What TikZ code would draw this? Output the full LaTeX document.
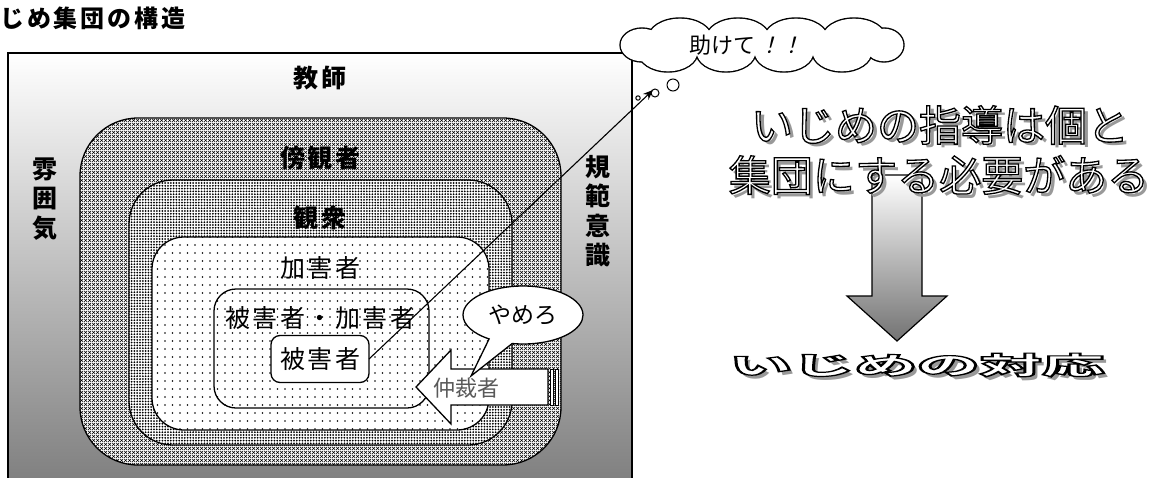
\documentclass[tikz,border=0pt]{standalone}
\usepackage{fontspec}
\usepackage{graphicx}
\usetikzlibrary{patterns,shapes.callouts,arrows.meta}
\newfontfamily\jp{Noto Sans CJK JP}
\newfontfamily\jpw[LetterSpace=10]{Noto Sans CJK JP}
\newfontfamily\jpt[LetterSpace=12]{Noto Sans CJK JP}
\newfontfamily\jpsl[FakeSlant=0.25]{Noto Sans CJK JP}
\newcommand{\outl}[2]{\special{pdf:code q}\textcolor{white}{\special{pdf:code 0 G 2 Tr #1 w}#2}\special{pdf:code 0 Tr Q}}
\pgfdeclarepatternformonly{sparsedots}{\pgfqpoint{-1pt}{-1pt}}{\pgfqpoint{1pt}{1pt}}{\pgfqpoint{7.5pt}{8pt}}{\pgfpathcircle{\pgfpointorigin}{0.8pt}\pgfusepath{fill}}
\pgfdeclarepatternformonly{densedots}{\pgfqpoint{-1pt}{-1pt}}{\pgfqpoint{1.2pt}{1.2pt}}{\pgfqpoint{2.8pt}{2.8pt}}{\pgfpathcircle{\pgfpointorigin}{1pt}\pgfusepath{fill}}
\pgfdeclarepatternformonly{xhatch}{\pgfqpoint{0pt}{0pt}}{\pgfqpoint{4pt}{4pt}}{\pgfqpoint{4pt}{4pt}}{\pgfsetlinewidth{0.8pt}\pgfpathmoveto{\pgfqpoint{0pt}{0pt}}\pgfpathlineto{\pgfqpoint{4pt}{4pt}}\pgfpathmoveto{\pgfqpoint{0pt}{4pt}}\pgfpathlineto{\pgfqpoint{4pt}{0pt}}\pgfusepath{stroke}}
\tikzset{
  lab/.style={font=\jpw\fontsize{25}{25}\selectfont, inner sep=0},
  blab/.style={font=\jpw\bfseries\fontsize{25}{25}\selectfont, inner sep=0},
  vlab/.style={font=\jp\bfseries\fontsize{25}{29.5}\selectfont, align=center, inner sep=0},
  ring/.style={draw, line width=1.3pt, rounded corners=#1, inner sep=0, outer sep=0, fill=white},
  bigtxt/.style={font=\jp\fontsize{42}{42}\selectfont, inner sep=0},
  shadowtxt/.style={text=black!40},
}
\begin{document}
\begin{tikzpicture}[x=1pt,y=-1pt]
\useasboundingbox (0,0) rectangle (1169,477);
% title
\node[anchor=west, inner sep=0, font=\jpt\bfseries\fontsize{24}{24}\selectfont] (title) at (0,18) {じめ集団の構造};
% outer frame with gradient
\shade[top color=white, bottom color=black!50] (8,53) rectangle (632,482);
\node[draw, line width=1.3pt, minimum width=624pt, minimum height=429pt, inner sep=0] (frame) at (320,267.5) {};
\node[blab] (teacher) at (320,78) {教師};
\node[vlab] (atmos) at (45,199) {雰\\囲\\気};
\node[vlab] (norm) at (598,211) {規\\範\\意\\識};
% nested groups
\node[ring=58pt, minimum width=481pt, minimum height=347pt, postaction={pattern=xhatch}] (byst) at (320.5,291.5) {};
\node[ring=44pt, minimum width=383pt, minimum height=265pt, postaction={pattern=densedots}] (aud) at (320.5,312.5) {};
\node[ring=32pt, minimum width=337pt, minimum height=193pt, postaction={pattern=sparsedots}] (agg) at (320.5,333.5) {};
\node[draw, line width=1.3pt, rounded corners=22pt, inner sep=0, minimum width=215pt, minimum height=119pt] (both) at (321.5,348.5) {};
\node[ring=9pt, minimum width=98pt, minimum height=47pt] (vict) at (320,359) {};
\node[blab] (lbyst) at (320,158) {傍観者};
\node[blab] (laud) at (320,218) {観衆};
\node[lab] (lagg) at (320,268) {加害者};
\node[lab] (lboth) at (320,318) {被害者・加害者};
\node[lab] (lvict) at (320,359) {被害者};
% mediator arrow
\filldraw[fill=white, line width=1.3pt, line join=miter] (416,387) -- (451,350) -- (451,369) -- (548,369) -- (548,405) -- (451,405) -- (451,424) -- cycle;
\filldraw[fill=white, line width=1pt] (550.5,369) rectangle (553,405);
\filldraw[fill=white, line width=1pt] (555.5,369) rectangle (558,405);
% speech bubble
\node[ellipse callout, draw, fill=white, line width=1.3pt, minimum width=120pt, minimum height=58pt, callout absolute pointer={(471,376)}, callout pointer arc=24, font=\jp\fontsize{23}{23}\selectfont] (stop) at (523,315) {やめろ};
\node[font=\jp\fontsize{22}{22}\selectfont, text=black!65, inner sep=0] (med) at (466,388) {仲裁者};
% cry for help
\coordinate (tip) at (653,90);
\draw[line width=1.1pt, -{Stealth[length=10pt,width=8pt]}] (vict.east) -- (tip);
\def\puffs{642/45/22/17,884/45/20/17,680/38/32/20,738/38/32/20,796/38/32/20,854/38/32/20,668/52/30/20,726/52/30/20,784/52/30/20,842/52/30/20}
\foreach \px/\py/\rx/\ry in \puffs \fill[black] (\px,\py) ellipse ({\rx+0.7} and {\ry+0.7});
\foreach \px/\py/\rx/\ry in \puffs \fill[white] (\px,\py) ellipse ({\rx-0.7} and {\ry-0.7});
\fill[white] (642,38) rectangle (882,52);
\node[inner sep=0] (help) at (746,45) {\jp\fontsize{22}{22}\selectfont 助けて\hspace{3pt}{\jpsl ！！}};
\draw[line width=1pt, fill=white] (638,98) circle (2.2);
\draw[line width=1pt] (655,93) circle (4);
\draw[line width=1pt, fill=white] (673,85) circle (6);
% down arrow
\shade[top color=white, bottom color=black!55, draw=black, line width=1.2pt, line join=miter] (872,175) -- (922,175) -- (922,296) -- (947,296) -- (897,341) -- (847,296) -- (872,296) -- cycle;
% big slogan
\node[bigtxt, shadowtxt] (s1s) at (944,129) {いじめの指導は個と};
\node[bigtxt] (s1) at (940,125) {\outl{1.3}{いじめの指導は個と}};
\node[bigtxt, shadowtxt] (s2s) at (943,179) {集団にする必要がある};
\node[bigtxt] (s2) at (939,175) {\outl{1.3}{集団にする必要がある}};
% bottom title
\node[inner sep=0, text=black!40] (b1s) at (921,369) {\scalebox{2.5}[1]{\jp\bfseries\fontsize{25}{25}\selectfont いじめの対応}};
\node[inner sep=0] (b1) at (917,365) {\scalebox{2.5}[1]{\jp\bfseries\fontsize{25}{25}\selectfont\outl{1.2}{いじめの対応}}};
\end{tikzpicture}
\end{document}
